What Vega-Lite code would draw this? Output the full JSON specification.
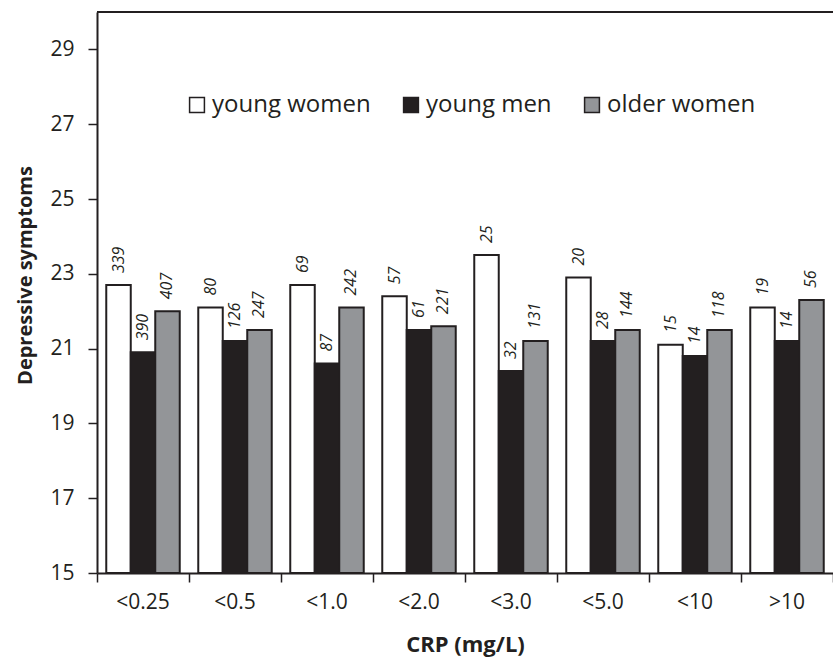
{
  "$schema": "https://vega.github.io/schema/vega-lite/v6.json",
  "width": 736,
  "height": 561,
  "padding": {"left": 15, "top": 11, "right": 0, "bottom": 5},
  "autosize": {"type": "pad"},
  "background": "white",
  "config": {"view": {"stroke": null}, "font": "Open Sans"},
  "data": {
    "values": [
      {"crp": "<0.25", "group": "young women", "value": 22.7, "n": 339},
      {"crp": "<0.25", "group": "young men", "value": 20.9, "n": 390},
      {"crp": "<0.25", "group": "older women", "value": 22.0, "n": 407},
      {"crp": "<0.5", "group": "young women", "value": 22.1, "n": 80},
      {"crp": "<0.5", "group": "young men", "value": 21.2, "n": 126},
      {"crp": "<0.5", "group": "older women", "value": 21.5, "n": 247},
      {"crp": "<1.0", "group": "young women", "value": 22.7, "n": 69},
      {"crp": "<1.0", "group": "young men", "value": 20.6, "n": 87},
      {"crp": "<1.0", "group": "older women", "value": 22.1, "n": 242},
      {"crp": "<2.0", "group": "young women", "value": 22.4, "n": 57},
      {"crp": "<2.0", "group": "young men", "value": 21.5, "n": 61},
      {"crp": "<2.0", "group": "older women", "value": 21.6, "n": 221},
      {"crp": "<3.0", "group": "young women", "value": 23.5, "n": 25},
      {"crp": "<3.0", "group": "young men", "value": 20.4, "n": 32},
      {"crp": "<3.0", "group": "older women", "value": 21.2, "n": 131},
      {"crp": "<5.0", "group": "young women", "value": 22.9, "n": 20},
      {"crp": "<5.0", "group": "young men", "value": 21.2, "n": 28},
      {"crp": "<5.0", "group": "older women", "value": 21.5, "n": 144},
      {"crp": "<10", "group": "young women", "value": 21.1, "n": 15},
      {"crp": "<10", "group": "young men", "value": 20.8, "n": 14},
      {"crp": "<10", "group": "older women", "value": 21.5, "n": 118},
      {"crp": ">10", "group": "young women", "value": 22.1, "n": 19},
      {"crp": ">10", "group": "young men", "value": 21.2, "n": 14},
      {"crp": ">10", "group": "older women", "value": 22.3, "n": 56}
    ]
  },
  "encoding": {
    "x": {
      "field": "crp", "type": "nominal",
      "sort": ["<0.25", "<0.5", "<1.0", "<2.0", "<3.0", "<5.0", "<10", ">10"],
      "scale": {"paddingInner": 0, "paddingOuter": 0},
      "axis": {
        "title": "CRP (mg/L)", "titleFontSize": 22, "titleFontWeight": "bold", "titleColor": "#231f20",
        "titlePadding": 22,
        "labelAngle": 0, "labelFontSize": 21, "labelColor": "#231f20", "labelPadding": 9,
        "tickSize": 9, "tickColor": "#231f20", "tickWidth": 1.5,
        "domainColor": "#231f20", "domainWidth": 2,
        "bandPosition": 1, "tickExtra": true
      }
    },
    "xOffset": {
      "field": "group", "type": "nominal",
      "sort": ["young women", "young men", "older women"],
      "scale": {"paddingInner": 0, "paddingOuter": 0.378}
    },
    "y": {
      "field": "value", "type": "quantitative", "stack": null,
      "scale": {"domain": [15, 30], "nice": false, "zero": false},
      "axis": {
        "title": "Depressive symptoms", "titleFontSize": 20, "titleFontWeight": "bold", "titleColor": "#231f20",
        "titlePadding": 14, "titleY": 263,
        "values": [15, 17, 19, 21, 23, 25, 27, 29],
        "labelFontSize": 21, "labelColor": "#231f20", "labelPadding": 14,
        "tickSize": 9, "tickColor": "#231f20", "tickWidth": 1.5,
        "domainColor": "#231f20", "domainWidth": 2, "grid": false
      }
    }
  },
  "layer": [
    {
      "mark": {"type": "bar", "stroke": "#231f20", "strokeWidth": 2},
      "encoding": {
        "color": {
          "field": "group", "type": "nominal",
          "scale": {"domain": ["young women", "young men", "older women"], "range": ["#ffffff", "#231f20", "#939598"]},
          "legend": {
            "title": null, "orient": "none", "direction": "horizontal",
            "legendX": 88, "legendY": 81,
            "symbolType": "square", "symbolSize": 220, "symbolStrokeColor": "#231f20", "symbolStrokeWidth": 1.5,
            "labelFontSize": 24, "labelColor": "#231f20", "labelOffset": 3, "columnPadding": 28,
            "labelLimit": 300
          }
        }
      }
    },
    {
      "mark": {"type": "text", "angle": 270, "align": "left", "baseline": "middle", "dx": 12,
               "fontStyle": "italic", "fontSize": 16, "color": "#231f20"},
      "encoding": {"text": {"field": "n", "type": "nominal"}}
    },
    {
      "mark": {"type": "rule", "color": "#231f20", "strokeWidth": 2},
      "encoding": {"y": {"datum": 30}, "x": null, "xOffset": null}
    }
  ]
}
